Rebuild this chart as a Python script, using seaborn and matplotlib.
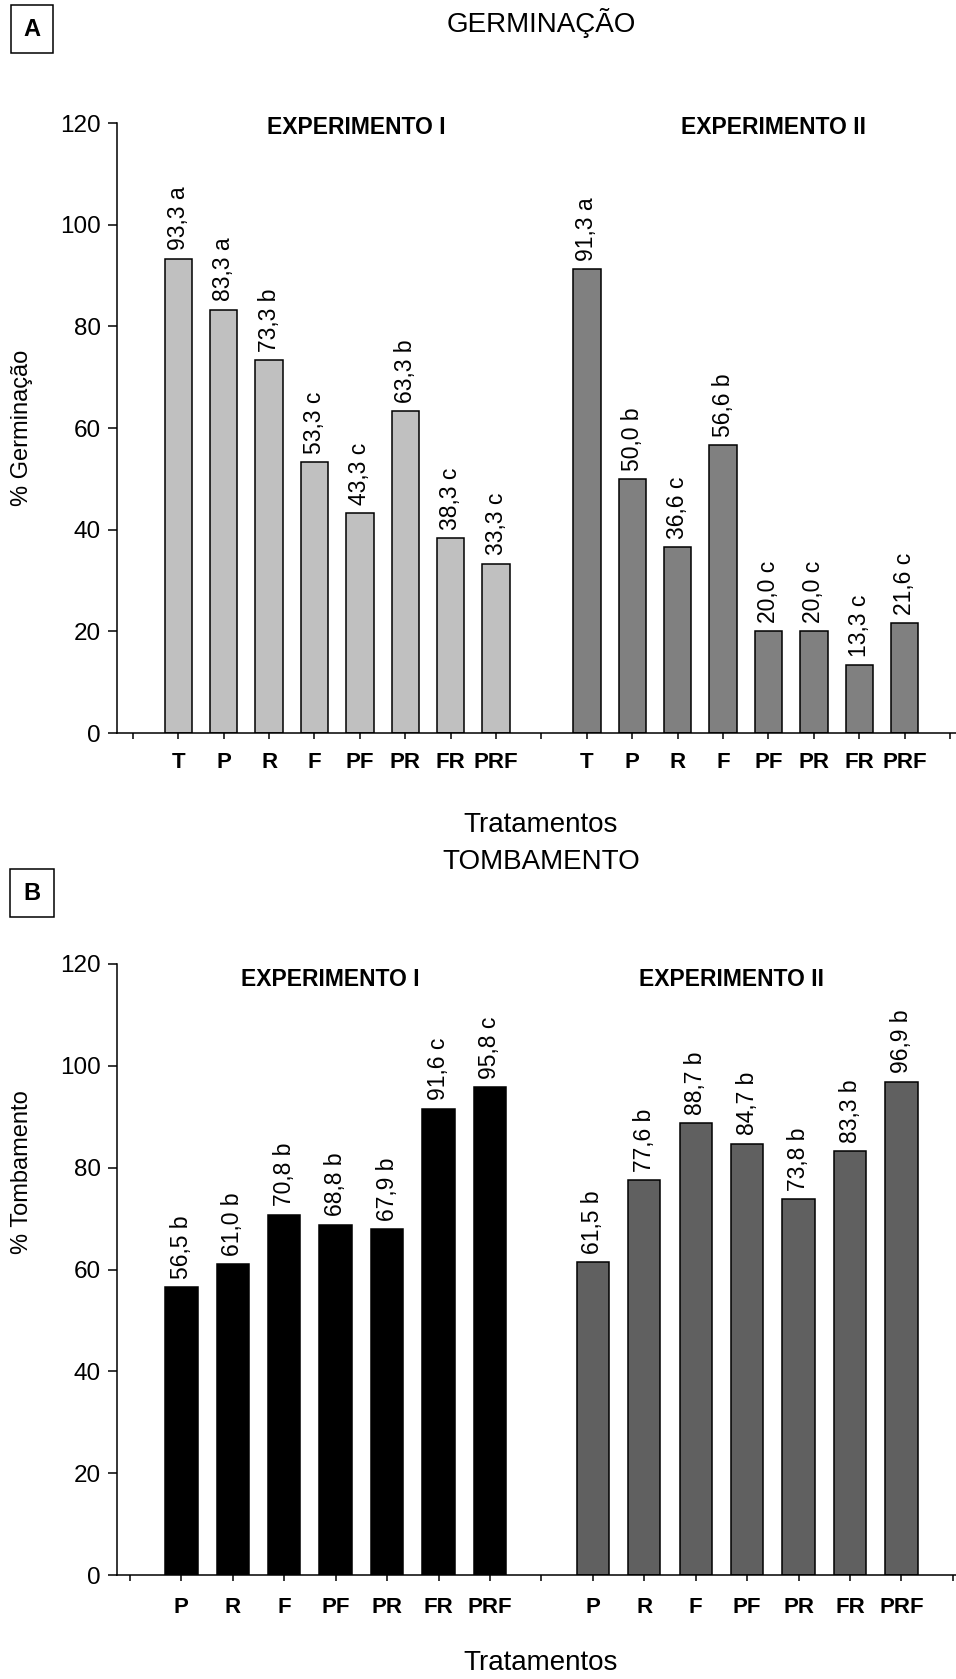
import numpy as np
import pandas as pd
import matplotlib
matplotlib.use("Agg")
import matplotlib.pyplot as plt
import seaborn as sns

# ---------------- data ----------------
treat_germ = ["T", "P", "R", "F", "PF", "PR", "FR", "PRF"]
germ_exp1 = [93.3, 83.3, 73.3, 53.3, 43.3, 63.3, 38.3, 33.3]
germ_exp1_letters = ["a", "a", "b", "c", "c", "b", "c", "c"]
germ_exp2 = [91.3, 50.0, 36.6, 56.6, 20.0, 20.0, 13.3, 21.6]
germ_exp2_letters = ["a", "b", "c", "b", "c", "c", "c", "c"]

treat_tomb = ["P", "R", "F", "PF", "PR", "FR", "PRF"]
tomb_exp1 = [56.5, 61.0, 70.8, 68.8, 67.9, 91.6, 95.8]
tomb_exp1_letters = ["b", "b", "b", "b", "b", "c", "c"]
tomb_exp2 = [61.5, 77.6, 88.7, 84.7, 73.8, 83.3, 96.9]
tomb_exp2_letters = ["b", "b", "b", "b", "b", "b", "b"]

exp_names = ["EXPERIMENTO I", "EXPERIMENTO II"]
y_ticks = [0, 20, 40, 60, 80, 100, 120]

# ---------------- style ----------------
sns.set_style("white")
plt.rcParams["font.family"] = ["Liberation Sans", "DejaVu Sans"]
plt.rcParams["text.color"] = "black"
plt.rcParams["axes.labelcolor"] = "black"
plt.rcParams["xtick.color"] = "black"
plt.rcParams["ytick.color"] = "black"

fig = plt.figure(figsize=(9.56, 16.79), dpi=100)
W, H = 956, 1679


def fx(px):
    return px / W


def fy(py):
    return 1 - py / H


def panel(rect, cats, v1, l1, v2, l2, colors, width, ylabel, ylab_y, exp_x, exp_y, xpad, xlim):
    ax = fig.add_axes(rect)
    n = len(cats)
    pos1 = np.arange(1, n + 1)
    pos2 = np.arange(n + 2, 2 * n + 2)
    df = pd.DataFrame({
        "pos": np.concatenate([pos1, pos2]),
        "val": list(v1) + list(v2),
        "exp": [exp_names[0]] * n + [exp_names[1]] * n,
    })
    sns.barplot(data=df, x="pos", y="val", hue="exp", palette=colors,
                native_scale=True, width=width, dodge=False, legend=False,
                edgecolor="black", linewidth=1.1, saturation=1,
                errorbar=None, ax=ax)
    for pos, vals, lets in ((pos1, v1, l1), (pos2, v2, l2)):
        for p, v, l in zip(pos, vals, lets):
            ax.annotate(f"{v:.1f}".replace(".", ",") + " " + l, (p, v),
                        xytext=(0, 6), textcoords="offset points",
                        rotation=90, ha="center", va="bottom", fontsize=16.5)
    ticks = np.arange(0, 2 * n + 3)
    labels = [""] + cats + [""] + cats + [""]
    ax.set_xticks(ticks)
    ax.set_xticklabels(labels, fontweight="bold", fontsize=16)
    ax.set_xlim(*xlim)
    ax.set_ylim(0, 120)
    ax.set_yticks(y_ticks)
    ax.tick_params(axis="y", direction="out", length=6.5, width=1.1,
                   labelsize=17.5, pad=5, left=True)
    ax.tick_params(axis="x", direction="out", length=4.5, width=1.1,
                   pad=xpad, bottom=True)
    for s in ("top", "right"):
        ax.spines[s].set_visible(False)
    for s in ("left", "bottom"):
        ax.spines[s].set_linewidth(1.1)
        ax.spines[s].set_color("black")
    ax.set_xlabel("")
    ax.set_ylabel(ylabel, fontsize=17)
    ax.yaxis.set_label_coords(-0.1, ylab_y)
    for name, x, y in zip(exp_names, exp_x, exp_y):
        ax.text(x, y, name, fontweight="bold", fontsize=16.5,
                ha="center", va="center")
    return ax


# Panel A
axA = panel([fx(117), fy(733), fx(956 - 117), (733 - 123) / H],
            treat_germ, germ_exp1, germ_exp1_letters, germ_exp2, germ_exp2_letters,
            ["#c0c0c0", "#808080"], 0.6, "% Germinação", 0.5,
            [4.93, 14.12], [119.2, 119.2], 9, (-0.35, 18.13))

# Panel B
axB = panel([fx(117), fy(1575), fx(956 - 117), (1575 - 964) / H],
            treat_tomb, tomb_exp1, tomb_exp1_letters, tomb_exp2, tomb_exp2_letters,
            ["#000000", "#606060"], 0.63, "% Tombamento", 0.66,
            [3.9, 11.7], [117, 117], 11, (-0.25, 16.06))

# titles, x-axis labels and panel letters
fig.text(fx(541), fy(23), "GERMINAÇÃO", ha="center", va="center", fontsize=20)
fig.text(fx(541), fy(825), "Tratamentos", ha="center", va="center", fontsize=20)
fig.text(fx(541), fy(862), "TOMBAMENTO", ha="center", va="center", fontsize=20)
fig.text(fx(541), fy(1663), "Tratamentos", ha="center", va="center", fontsize=20)

box = dict(boxstyle="square,pad=0.55", facecolor="white", edgecolor="black", linewidth=1.1)
fig.text(fx(32), fy(29), "A", ha="center", va="center", fontsize=17,
         fontweight="bold", bbox=box)
fig.text(fx(32), fy(893), "B", ha="center", va="center", fontsize=17,
         fontweight="bold", bbox=box)

fig.savefig("out.png", dpi=100)
